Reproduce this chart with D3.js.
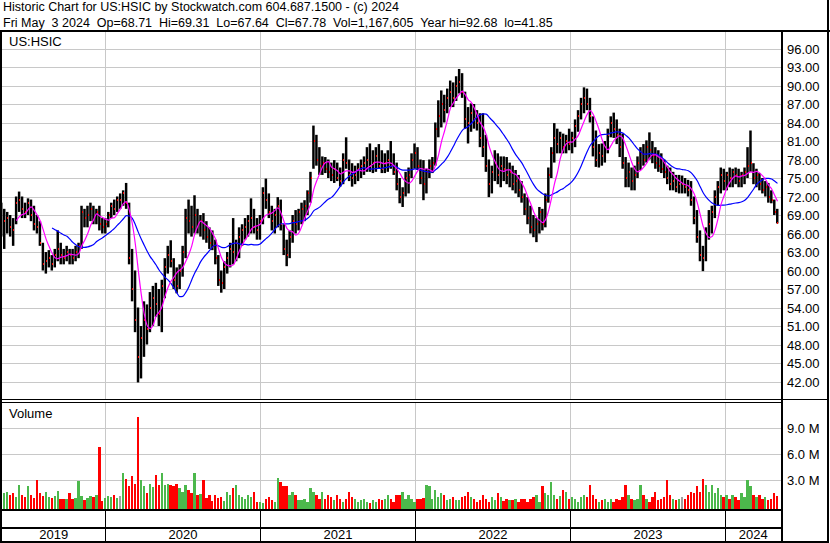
<!DOCTYPE html>
<html>
<head>
<meta charset="utf-8">
<script src="https://cdn.jsdelivr.net/npm/d3@7"></script>
<style>
  html, body { margin: 0; padding: 0; background: #fff; }
  svg { display: block; font-family: "Liberation Sans", Arial, sans-serif; }
</style>
</head>
<body>
<svg id="chart" width="830" height="543"></svg>
<script>
// ---- chart content -------------------------------------------------------
const symbol = "US:HSIC";
const titleLine = "Historic Chart for US:HSIC by Stockwatch.com 604.687.1500 - (c) 2024";
const quoteLine = "Fri May  3 2024  Op=68.71  Hi=69.31  Lo=67.64  Cl=67.78  Vol=1,167,605  Year hi=92.68  lo=41.85";

const priceTicks = [42, 45, 48, 51, 54, 57, 60, 63, 66, 69, 72, 75, 78, 81, 84, 87, 90, 93, 96];
const volumeTicks = [3, 6, 9];               // millions
const years = [2019, 2020, 2021, 2022, 2023, 2024];

const firstWeek = "2019-05-03";              // weekly bars, one per Friday
const lastWeek = "2024-05-03";

const weekHigh = [
  71.0, 70.0, 69.5, 69.0, 68.5, 72.0, 72.8, 72.0, 71.0, 71.7,
  71.5, 70.5, 69.0, 68.0, 64.5, 63.0, 63.3, 62.5, 63.5, 66.5,
  64.5, 63.5, 64.0, 63.5, 63.5, 64.0, 64.5, 70.5, 70.0, 70.5,
  71.0, 70.5, 70.0, 70.5, 68.5, 68.5, 69.5, 71.0, 71.5, 72.0,
  72.5, 73.0, 74.2, 71.0, 63.5, 60.0, 54.0, 51.0, 55.0, 54.5,
  56.5, 57.5, 58.0, 57.0, 58.5, 62.0, 64.0, 64.9, 62.0, 60.5,
  61.0, 64.0, 70.0, 71.5, 70.5, 72.2, 70.0, 69.0, 69.3, 68.0,
  67.0, 66.5, 65.0, 62.5, 60.0, 61.5, 63.0, 64.5, 68.5, 65.0,
  67.0, 67.5, 68.5, 69.0, 71.7, 70.0, 68.5, 69.0, 73.5, 74.9,
  72.5, 70.5, 70.0, 71.9, 71.5, 67.5, 65.0, 66.5, 69.0, 69.8,
  70.0, 71.0, 71.4, 73.0, 76.0, 83.5, 82.0, 80.0, 78.5, 78.4,
  78.0, 77.5, 77.9, 77.5, 76.7, 79.0, 81.6, 78.0, 77.4, 77.0,
  77.4, 78.0, 78.5, 80.0, 80.6, 79.5, 80.0, 80.5, 79.5, 79.0,
  79.5, 81.0, 79.0, 77.5, 75.0, 73.5, 76.0, 76.7, 79.0, 80.6,
  80.0, 78.0, 77.9, 76.5, 78.0, 78.4, 84.0, 87.6, 89.2, 88.5,
  89.5, 90.8, 90.5, 91.5, 92.68, 92.0, 89.0, 86.5, 87.1, 87.0,
  86.0, 85.5, 85.5, 82.0, 78.0, 77.0, 79.5, 79.0, 78.5, 78.5,
  78.4, 77.5, 77.0, 76.3, 75.5, 74.5, 72.5, 71.9, 70.5, 69.0,
  68.5, 70.3, 70.0, 72.5, 76.7, 80.0, 83.9, 83.0, 82.5, 82.2,
  82.0, 83.0, 82.5, 84.5, 86.0, 88.0, 89.7, 89.5, 88.0, 85.0,
  82.7, 80.5, 80.6, 81.0, 83.0, 85.0, 85.6, 84.5, 83.0, 82.2,
  78.4, 77.5, 76.7, 77.0, 78.5, 80.0, 80.5, 81.1, 82.4, 81.0,
  80.0, 79.5, 79.0, 78.0, 77.0, 76.7, 76.0, 75.5, 75.5, 75.4,
  75.0, 74.7, 74.5, 72.0, 69.8, 66.5, 64.0, 67.0, 69.8, 70.5,
  73.0, 74.5, 76.7, 76.5, 76.0, 76.7, 76.5, 76.7, 76.5, 76.0,
  76.7, 80.0, 82.7, 77.4, 76.5, 75.8, 75.0, 74.5, 74.2, 73.0,
  71.5, 70.0
];

const weekLow = [
  65.5, 63.5, 66.0, 65.5, 64.0, 67.5, 69.5, 68.5, 68.5, 69.0,
  68.0, 66.5, 66.0, 64.0, 60.0, 59.5, 60.5, 60.0, 60.5, 61.5,
  61.0, 61.0, 61.5, 61.0, 61.0, 61.5, 62.0, 63.5, 67.0, 67.0,
  68.0, 67.5, 67.5, 66.5, 66.0, 66.0, 67.0, 68.5, 69.0, 69.5,
  70.0, 70.5, 70.0, 61.0, 55.0, 50.0, 41.85, 42.5, 46.0, 48.0,
  50.0, 51.0, 52.5, 51.0, 50.0, 55.5, 59.5, 60.5, 57.0, 56.3,
  57.0, 59.0, 62.0, 66.0, 65.5, 66.0, 66.0, 65.5, 65.0, 64.5,
  63.5, 63.3, 61.0, 57.5, 56.4, 57.0, 59.5, 60.5, 61.0, 61.5,
  62.0, 64.0, 65.0, 65.5, 66.0, 66.0, 65.0, 65.0, 67.5, 70.0,
  68.5, 66.5, 66.0, 67.0, 66.5, 62.5, 60.7, 62.0, 64.5, 66.0,
  66.5, 67.5, 68.0, 69.0, 71.0, 76.5, 77.0, 75.5, 75.5, 75.8,
  75.0, 74.5, 74.2, 74.5, 73.6, 74.0, 76.5, 74.5, 73.6, 74.0,
  74.5, 75.0, 75.5, 76.0, 76.0, 75.8, 76.0, 76.5, 75.8, 75.8,
  76.0, 76.5, 75.5, 73.0, 70.9, 70.3, 72.0, 72.5, 75.0, 76.5,
  76.3, 74.0, 71.4, 72.5, 75.0, 75.8, 77.0, 81.6, 83.2, 84.0,
  85.5, 86.5, 86.5, 87.5, 88.7, 88.0, 83.0, 80.6, 82.5, 83.0,
  82.7, 80.0, 78.4, 76.0, 71.9, 72.5, 74.5, 74.0, 73.5, 74.5,
  74.0, 73.5, 73.0, 72.5, 71.9, 71.0, 69.0, 67.5, 66.0, 65.4,
  64.6, 66.0, 66.5, 67.0, 71.0, 75.0, 77.5, 79.0, 79.0, 79.0,
  79.0, 79.5, 79.0, 80.0, 82.5, 84.5, 85.5, 86.0, 84.0, 78.5,
  76.8, 76.7, 77.0, 77.5, 79.0, 81.6, 81.5, 80.5, 78.4, 76.5,
  73.5, 73.5, 73.0, 73.0, 75.0, 76.3, 77.0, 77.5, 78.0, 77.4,
  76.5, 76.0, 75.8, 75.0, 74.0, 73.0, 73.0, 72.7, 72.5, 72.5,
  72.5, 72.0, 70.5, 67.5, 64.5, 61.5, 59.9, 61.5, 65.0, 66.0,
  68.5, 70.5, 72.5, 73.0, 73.0, 73.5, 73.5, 74.0, 73.5, 73.5,
  74.0, 75.0, 76.0, 74.0, 73.5, 73.0, 72.5, 72.0, 71.0, 70.9,
  69.0, 67.64
];

const weekClose = [
  67.5, 68.0, 68.5, 67.0, 66.5, 71.0, 71.5, 70.0, 69.5, 71.0,
  69.0, 67.5, 67.0, 64.5, 61.0, 61.5, 62.0, 61.0, 62.5, 63.5,
  62.5, 62.0, 63.0, 62.5, 62.0, 63.0, 64.0, 69.5, 68.5, 69.0,
  70.0, 68.5, 69.5, 67.5, 67.0, 67.5, 69.0, 70.5, 70.0, 71.5,
  71.5, 72.5, 71.0, 62.0, 57.0, 52.0, 46.0, 49.0, 52.0, 50.5,
  54.0, 55.5, 54.5, 53.0, 57.5, 60.5, 62.5, 61.5, 58.5, 57.5,
  60.0, 63.0, 68.5, 68.0, 67.0, 69.0, 67.5, 68.0, 66.5, 65.5,
  64.5, 64.0, 62.0, 58.5, 58.0, 60.5, 62.0, 63.5, 63.0, 64.5,
  65.5, 66.5, 67.0, 68.0, 68.5, 67.0, 66.5, 68.0, 72.5, 71.5,
  69.5, 68.0, 69.0, 70.5, 67.5, 63.5, 62.5, 65.5, 68.0, 67.5,
  69.5, 70.0, 70.5, 72.5, 75.0, 81.0, 78.0, 77.0, 77.5, 76.5,
  76.0, 75.5, 76.5, 75.0, 74.5, 78.0, 77.5, 75.5, 75.0, 75.5,
  76.5, 77.0, 77.5, 78.0, 77.0, 77.5, 78.5, 77.0, 76.5, 77.5,
  78.0, 77.0, 76.0, 74.0, 72.0, 72.5, 75.0, 75.5, 78.0, 79.0,
  77.0, 75.0, 74.0, 76.0, 77.0, 77.5, 83.0, 85.0, 87.0, 86.0,
  88.0, 89.0, 88.0, 90.0, 90.5, 89.0, 84.5, 84.0, 85.5, 84.5,
  84.0, 81.5, 80.0, 77.0, 74.0, 76.0, 77.5, 75.5, 77.0, 76.5,
  75.5, 76.0, 74.0, 74.5, 73.0, 72.0, 70.0, 68.5, 67.0, 66.5,
  67.5, 69.5, 67.5, 71.5, 75.5, 79.0, 81.5, 80.5, 81.5, 80.0,
  81.0, 80.5, 81.5, 83.5, 85.0, 87.0, 88.0, 87.0, 85.0, 80.0,
  78.0, 79.0, 78.5, 80.0, 82.0, 84.0, 83.0, 82.0, 80.0, 77.5,
  75.0, 76.0, 74.5, 75.5, 77.5, 79.0, 78.0, 80.0, 79.5, 78.5,
  77.5, 77.0, 76.5, 76.0, 75.0, 74.0, 74.5, 73.5, 74.0, 74.0,
  73.5, 73.0, 71.5, 68.5, 65.5, 62.5, 62.0, 66.0, 67.5, 69.5,
  72.0, 73.5, 75.5, 74.5, 75.5, 75.0, 76.0, 75.5, 74.5, 75.5,
  76.0, 77.0, 77.5, 75.0, 75.5, 74.0, 73.0, 73.5, 72.0, 71.5,
  69.5, 67.78
];

// peak daily volume of each week, millions of shares
const weekVolume = [
  4.6, 1.5, 1.7, 1.3, 1.5, 1.1, 2.5, 1.3, 1.1, 2.4,
  1.3, 1.0, 3.0, 1.5, 1.2, 1.7, 1.1, 1.0, 1.2, 1.8,
  0.8, 0.8, 0.9, 1.5, 0.9, 1.0, 2.9, 1.2, 0.7, 1.0,
  1.2, 1.1, 1.3, 6.9, 0.6, 1.0, 1.2, 1.1, 1.3, 1.0,
  1.2, 3.8, 3.2, 2.3, 3.5, 2.6, 10.35, 3.0, 2.3, 1.5,
  2.6, 2.2, 3.6, 2.5, 3.8, 2.5, 2.6, 2.5, 2.3, 2.6,
  2.1, 1.7, 2.5, 1.9, 1.5, 3.9, 1.3, 1.4, 3.0, 1.0,
  1.3, 0.6, 1.3, 1.0, 1.1, 0.6, 1.7, 1.3, 2.1, 2.5,
  1.3, 1.1, 0.9, 1.3, 1.1, 1.7, 0.5, 0.5, 0.4, 0.9,
  1.1, 0.7, 0.5, 3.3, 2.75, 2.3, 2.3, 1.3, 1.7, 1.3,
  0.7, 0.7, 0.9, 0.5, 2.1, 1.7, 1.3, 0.9, 1.7, 0.9,
  1.3, 1.1, 0.7, 1.3, 0.9, 0.5, 0.9, 1.7, 1.1, 0.9,
  0.5, 0.7, 0.9, 0.5, 0.35, 0.7, 0.5, 0.9, 0.7, 0.9,
  1.3, 0.9, 0.5, 1.3, 1.3, 1.7, 0.9, 1.3, 0.9, 0.5,
  0.9, 0.9, 1.0, 2.5, 2.3, 0.9, 1.9, 1.1, 1.5, 1.3,
  0.7, 0.9, 1.1, 0.7, 0.7, 1.1, 1.2, 1.7, 1.1, 0.9,
  0.5, 0.7, 1.3, 0.9, 0.5, 1.1, 0.7, 1.5, 1.1, 0.6,
  0.9, 0.7, 0.7, 0.9, 0.5, 0.9, 0.9, 0.5, 0.9, 1.1,
  1.3, 0.5, 2.3, 1.5, 1.3, 2.75, 1.3, 0.9, 1.2, 1.9,
  1.7, 0.9, 1.1, 0.9, 0.5, 1.1, 1.3, 1.1, 2.5, 1.3,
  0.9, 0.5, 0.7, 0.9, 0.5, 0.9, 0.5, 0.9, 0.7, 1.1,
  2.5, 1.3, 0.9, 0.7, 0.9, 2.5, 1.3, 0.9, 0.5, 1.1,
  1.7, 0.7, 0.9, 1.1, 3.0, 1.3, 0.9, 0.7, 0.9, 1.1,
  0.9, 1.3, 1.7, 1.5, 2.3, 1.7, 3.2, 2.5, 1.7, 2.5,
  1.5, 2.1, 1.3, 1.1, 1.3, 0.9, 1.3, 1.1, 0.7, 1.5,
  1.1, 3.0, 2.3, 1.3, 1.1, 1.3, 0.9, 1.1, 0.7, 0.9,
  1.5, 1.17
];

// ---- layout ----------------------------------------------------------------
const W = 830, H = 543;
const plotL = 2, plotR = 781;
const priceTop = 32, priceBottom = 399;
const volTop = 403, volBottom = 509;
const ink = "#000", grid = "#c8c8c8";
const upColor = "#4cb84c", downColor = "#ff0000", flatColor = "#a0a0a0";

const svg = d3.select("#chart");
svg.append("rect").attr("width", W).attr("height", H).attr("fill", "#fff");

const parse = d3.utcParse("%Y-%m-%d");
const t0 = parse(firstWeek), t1 = parse(lastWeek);
const bars = weekClose.map((c, i) => ({
  date: d3.utcDay.offset(t0, 7 * i),
  high: weekHigh[i], low: weekLow[i], close: c, volume: weekVolume[i],
  prev: i > 0 ? weekClose[i - 1] : null
}));

const x = d3.scaleUtc().domain([t0, t1]).range([1.5, 777.5]);
const y = d3.scaleLinear().domain([42, 96]).range([381.5, 48.5]);
const yv = d3.scaleLinear().domain([0, 9]).range([506.3, 428.3]);
const step = x(d3.utcDay.offset(t0, 7)) - x(t0);

const yearStarts = years.slice(1).map(yr => new Date(Date.UTC(yr, 0, 1)));
const yearEdges = [plotL, ...yearStarts.map(d => Math.round(x(d)) + 0.5), plotR];

// ---- grid ------------------------------------------------------------------
const gGrid = svg.append("g").attr("stroke", grid).attr("stroke-width", 1).attr("shape-rendering", "crispEdges");
gGrid.selectAll("line.hp").data(priceTicks).join("line").attr("class", "hp")
  .attr("x1", plotL).attr("x2", plotR)
  .attr("y1", d => Math.round(y(d)) + 0.5).attr("y2", d => Math.round(y(d)) + 0.5);
gGrid.selectAll("line.hv").data(volumeTicks).join("line").attr("class", "hv")
  .attr("x1", plotL).attr("x2", plotR)
  .attr("y1", d => Math.round(yv(d)) + 0.5).attr("y2", d => Math.round(yv(d)) + 0.5);
yearStarts.forEach(d => {
  const xx = Math.round(x(d)) + 0.5;
  gGrid.append("line").attr("x1", xx).attr("x2", xx).attr("y1", priceTop).attr("y2", priceBottom);
  gGrid.append("line").attr("x1", xx).attr("x2", xx).attr("y1", volTop).attr("y2", volBottom);
});

// ---- price bars (high-low range of each week, close tick in red) ---------------
const gPrice = svg.append("g");
gPrice.selectAll("rect.bar").data(bars).join("rect").attr("class", "bar")
  .attr("x", d => x(d.date) - step / 2)
  .attr("width", step - 0.5)
  .attr("y", d => y(d.high))
  .attr("height", d => Math.max(1, y(d.low) - y(d.high)))
  .attr("fill", ink);
gPrice.selectAll("rect.cl").data(bars).join("rect").attr("class", "cl")
  .attr("shape-rendering", "crispEdges")
  .attr("x", d => Math.round(x(d.date) + step / 2 - 1.5))
  .attr("width", 1)
  .attr("y", d => Math.round(y(d.close)) - 1)
  .attr("height", 2)
  .attr("fill", downColor);

// ---- moving averages ----------------------------------------------------------
function sma(n) {
  return bars.map((d, i) => i < n - 1 ? null :
    { date: d.date, v: d3.mean(weekClose.slice(i - n + 1, i + 1)) }).filter(Boolean);
}
const line = d3.line().x(d => x(d.date)).y(d => y(d.v)).curve(d3.curveMonotoneX);
svg.append("path").datum(sma(18)).attr("d", line)
  .attr("fill", "none").attr("stroke", "#0000ff").attr("stroke-width", 1.2);
svg.append("path").datum(sma(6)).attr("d", line)
  .attr("fill", "none").attr("stroke", "#ff00ff").attr("stroke-width", 1.2);

// ---- volume -------------------------------------------------------------------
svg.append("g").attr("shape-rendering", "crispEdges")
  .selectAll("rect").data(bars).join("rect")
  .attr("x", d => x(d.date) - step / 2)
  .attr("width", step - 0.6)
  .attr("y", d => yv(d.volume))
  .attr("height", d => volBottom - yv(d.volume))
  .attr("fill", d => d.prev === null || d.close > d.prev ? upColor : d.close < d.prev ? downColor : flatColor);

// ---- frame ----------------------------------------------------------------------
const frame = svg.append("g").attr("fill", ink).attr("shape-rendering", "crispEdges");
frame.append("rect").attr("x", 0).attr("y", 30).attr("width", W).attr("height", 2);        // under header
frame.append("rect").attr("x", 0).attr("y", 30).attr("width", 2).attr("height", H - 30);   // left
frame.append("rect").attr("x", 827).attr("y", 0).attr("width", 2).attr("height", H);       // right
frame.append("rect").attr("x", plotR).attr("y", 30).attr("width", 2).attr("height", H - 30); // axis
frame.append("rect").attr("x", 0).attr("y", 399).attr("width", 829).attr("height", 1);
frame.append("rect").attr("x", 0).attr("y", 402).attr("width", plotR).attr("height", 1);
frame.append("rect").attr("x", 0).attr("y", 509).attr("width", plotR).attr("height", 2);
frame.append("rect").attr("x", 0).attr("y", 527).attr("width", plotR).attr("height", 2);
frame.append("rect").attr("x", 0).attr("y", 541).attr("width", 829).attr("height", 2);
yearStarts.forEach(d => {
  frame.append("rect").attr("x", Math.round(x(d))).attr("y", 511).attr("width", 1).attr("height", 30);
});

// ---- text ------------------------------------------------------------------------
const keepSpaces = s => s.replace(/  /g, " \u00a0");
const txt = svg.append("g").attr("font-size", 13).attr("fill", ink);
txt.append("text").attr("x", 3).attr("y", 11).attr("font-size", 12.5).text(keepSpaces(titleLine));
txt.append("text").attr("x", 3).attr("y", 27).attr("font-size", 12.5).text(keepSpaces(quoteLine));
txt.append("text").attr("x", 9).attr("y", 46).text(symbol);
txt.append("text").attr("x", 9).attr("y", 418).text("Volume");

txt.selectAll("text.pt").data(priceTicks).join("text").attr("class", "pt")
  .attr("x", 787).attr("y", d => Math.round(y(d)) + 5).text(d3.format(".2f"));
txt.selectAll("text.vt").data(volumeTicks).join("text").attr("class", "vt")
  .attr("x", 787).attr("y", d => Math.round(yv(d)) + 5).text(d => d3.format(".1f")(d) + " M");
txt.selectAll("text.yr").data(years).join("text").attr("class", "yr")
  .attr("x", (d, i) => (yearEdges[i] + yearEdges[i + 1]) / 2)
  .attr("y", 539).attr("text-anchor", "middle").text(d => d);
</script>
</body>
</html>
